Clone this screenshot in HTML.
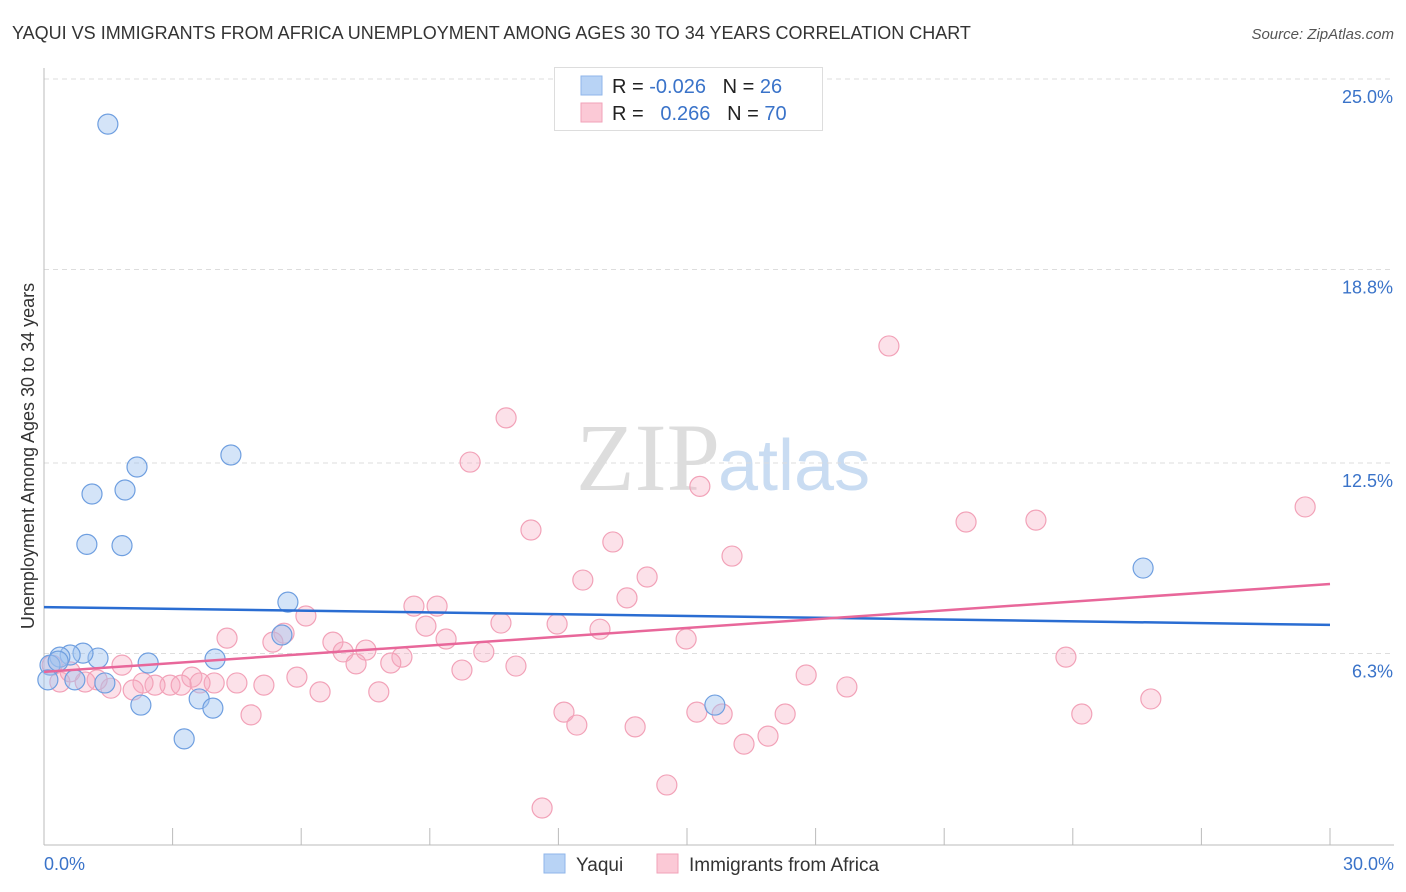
<!DOCTYPE html>
<html><head><meta charset="utf-8"><style>
body{margin:0;background:#fff;font-family:"Liberation Sans",sans-serif;}
svg{display:block}
</style></head><body>
<svg id="c" width="1406" height="892" xmlns="http://www.w3.org/2000/svg">
<text x="12" y="39" font-size="18" fill="#333">YAQUI VS IMMIGRANTS FROM AFRICA UNEMPLOYMENT AMONG AGES 30 TO 34 YEARS CORRELATION CHART</text>
<text x="1394" y="39" font-size="15" fill="#555" font-style="italic" text-anchor="end">Source: ZipAtlas.com</text>
<text x="720" y="490" font-size="96" fill="#ddd" font-family="Liberation Serif" text-anchor="end">ZIP</text>
<text x="718" y="490" font-size="72" fill="#c9dcf2">atlas</text>
<text transform="translate(34,456) rotate(-90)" font-size="18" fill="#333" text-anchor="middle">Unemployment Among Ages 30 to 34 years</text>
<g id="grid"></g><g id="pts"></g><g id="trend"></g>
<g>
<rect x="554.5" y="67.5" width="268" height="63" fill="#fff" stroke="#ddd"/>
<rect x="581" y="76" width="21" height="19" fill="#b8d3f5" stroke="#8fb6ea"/>
<rect x="581" y="103" width="21" height="19" fill="#fbc9d6" stroke="#f2a2b8"/>
<text x="612" y="93" font-size="20" fill="#222">R = <tspan fill="#3a73c9">-0.026</tspan>&#160;&#160;&#160;N = <tspan fill="#3a73c9">26</tspan></text>
<text x="612" y="120" font-size="20" fill="#222">R = &#160;&#160;<tspan fill="#3a73c9">0.266</tspan>&#160;&#160;&#160;N = <tspan fill="#3a73c9">70</tspan></text>
</g>
<g>
<rect x="544" y="854" width="21" height="19" fill="#b8d3f5" stroke="#8fb6ea"/>
<text x="576" y="871" font-size="19" fill="#333">Yaqui</text>
<rect x="657" y="854" width="21" height="19" fill="#fbc9d6" stroke="#f2a2b8"/>
<text x="689" y="871" font-size="19" fill="#333">Immigrants from Africa</text>
</g>
</svg>
<script>
const yTicks=[25.0,18.8,12.5,6.3];
const yTickLabels=["25.0%","18.8%","12.5%","6.3%"];
const xTickLabels=["0.0%","30.0%"];
const yaquiX=[1.49,2.17,4.36,1.12,1.89,1.00,1.82,5.69,25.64,5.55,3.99,2.43,1.26,0.91,0.61,0.37,0.14,0.09,0.72,1.42,2.26,3.62,3.94,3.27,15.65,0.33];
const yaquiY=[23.53,12.37,12.76,11.49,11.62,9.85,9.81,7.97,9.08,6.90,6.12,5.99,6.15,6.31,6.25,6.18,5.92,5.44,5.44,5.34,4.62,4.82,4.52,3.52,4.62,6.05];
const africaX=[19.71,10.78,9.94,15.30,29.42,23.14,21.51,11.36,13.27,16.05,14.07,12.57,13.60,8.63,9.17,6.11,10.66,11.97,8.91,12.97,14.98,4.27,5.60,5.34,6.74,9.38,6.98,10.26,7.51,8.35,7.28,8.09,23.84,9.75,11.01,17.78,5.90,3.45,4.50,5.13,18.73,3.97,3.64,2.94,3.20,2.59,2.31,1.82,1.56,2.08,6.44,7.81,25.82,4.83,12.13,12.43,13.79,15.23,15.82,17.29,24.21,16.89,16.33,14.53,11.62,1.24,0.37,0.96,0.19,0.61];
const africaY=[16.31,13.97,12.53,11.74,11.07,10.64,10.58,10.32,9.93,9.47,8.79,8.69,8.11,7.84,7.84,7.52,7.29,7.26,7.19,7.09,6.77,6.80,6.96,6.67,6.67,6.77,6.35,6.35,6.41,6.18,5.96,5.99,6.18,5.76,5.89,5.60,5.53,5.53,5.34,5.27,5.21,5.34,5.34,5.27,5.27,5.27,5.34,5.92,5.17,5.11,5.05,5.05,4.82,4.30,4.39,3.97,3.91,4.39,4.33,4.33,4.33,3.61,3.35,2.02,1.27,5.44,5.37,5.37,5.92,5.70];
const yaquiTrend=[7.81,7.23];
const africaTrend=[5.70,8.56];
const X=v=>44+v/30*1286, Y=v=>847-v/6.25*192;
const NS="http://www.w3.org/2000/svg";
function mk(tag,attrs,parent){const e=document.createElementNS(NS,tag);for(const k in attrs)e.setAttribute(k,attrs[k]);parent.appendChild(e);return e;}
const g=document.getElementById('grid');
yTicks.forEach((t,i)=>{
 const l=mk('line',{x1:44,x2:1394,y1:Y(t),y2:Y(t),stroke:'#ddd','stroke-dasharray':'5,4'},g);
 
 
 const tx=mk('text',{x:1393,y:Y(t)+24,'font-size':18,fill:'#3a73c9','text-anchor':'end'},g);
 tx.textContent=yTickLabels[i];
 
 
});
const ax=mk('line',{x1:44,x2:1394,y1:845,y2:845,stroke:'#bbb'},g);


const ay=mk('line',{x1:44,x2:44,y1:68,y2:845,stroke:'#bbb'},g);


for(let i=1;i<=10;i++){const t=mk('line',{x1:X(i*3),x2:X(i*3),y1:828,y2:845,stroke:'#bbb'},g);
 
 }
[[0,'start',44],[30,'end',1394]].forEach((a,i)=>{const t=mk('text',{x:a[2],y:870,'font-size':18,fill:'#3a73c9','text-anchor':a[1]},g);t.textContent=xTickLabels[i];
 
 });
const p=document.getElementById('pts');
africaX.forEach((x,i)=>{const c=mk('circle',{cx:X(x),cy:Y(africaY[i]),r:10,fill:'rgba(247,170,192,0.35)',stroke:'#f2a2b8','stroke-width':1.2},p);
 
 });
yaquiX.forEach((x,i)=>{const c=mk('circle',{cx:X(x),cy:Y(yaquiY[i]),r:10,fill:'rgba(160,196,240,0.45)',stroke:'#6f9fe0','stroke-width':1.2},p);
 
 });
const tr=document.getElementById('trend');
const l1=mk('line',{x1:X(0),x2:X(30),y1:Y(yaquiTrend[0]),y2:Y(yaquiTrend[1]),stroke:'#2a6dd2','stroke-width':2.5},tr);


const l2=mk('line',{x1:X(0),x2:X(30),y1:Y(africaTrend[0]),y2:Y(africaTrend[1]),stroke:'#e8679a','stroke-width':2.5},tr);


</script>
</body></html>
